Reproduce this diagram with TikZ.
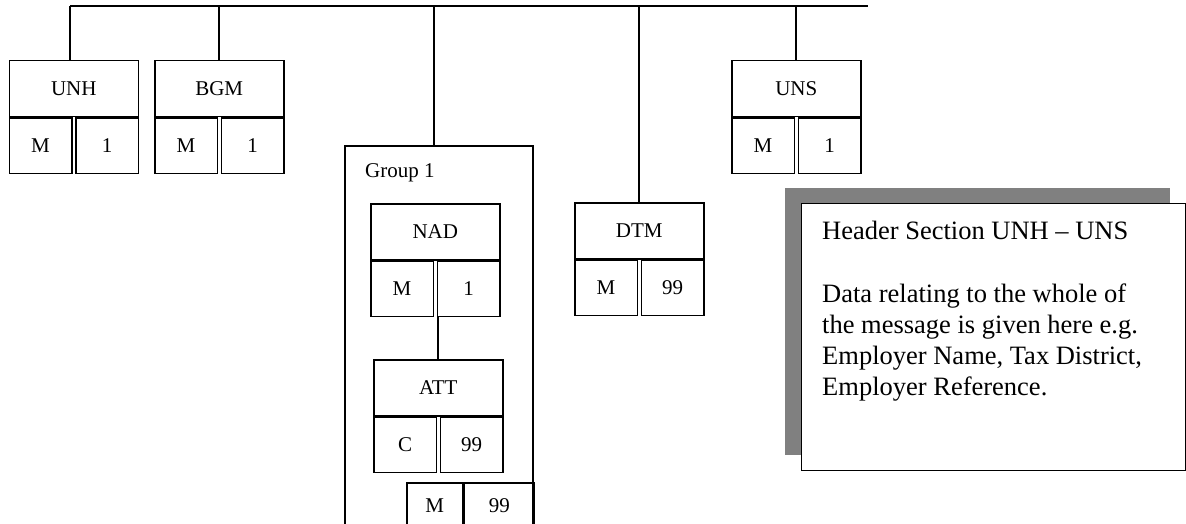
\documentclass[tikz,border=0pt]{standalone}
\usepackage{fontspec}
\setmainfont{Liberation Serif}
\begin{document}
\begin{tikzpicture}[x=1pt,y=-1pt,
  lbl/.style={font=\fontsize{21}{25}\selectfont},
  segtop/.style={draw,line width=1.5pt,minimum width=129pt,minimum height=56pt,inner sep=0pt,lbl},
  segcell/.style={draw,line width=1.5pt,minimum width=62.5pt,minimum height=55pt,inner sep=0pt,lbl},
  conn/.style={line width=1.6pt},
  grpbox/.style={draw,line width=1.6pt,minimum width=188pt,minimum height=420pt,inner sep=0pt,anchor=north west},
  notebox/.style={draw,line width=1.3pt,fill=white,minimum width=384pt,minimum height=267pt,inner sep=0pt,anchor=north west},
  shadowbox/.style={fill=shadowgray,minimum width=385pt,minimum height=267pt,inner sep=0pt,anchor=north west},
  notetxt/.style={font=\fontsize{26.5}{31}\selectfont,align=left,inner sep=0pt}
]
\definecolor{shadowgray}{RGB}{128,128,128}
\useasboundingbox (0,0) rectangle (1186,524);
\clip (0,0) rectangle (1186,524);

\newcommand\segment[6]{%
  \node[segtop,anchor=north west] (#1) at (#2,#3) {#4};
  \node[segcell,anchor=north west] (#1-l) at (#1.south west) {#5};
  \node[segcell,anchor=north east] (#1-r) at (#1.south east) {#6};
}

% top bar
\coordinate (barL) at (70,6);
\coordinate (barR) at (868,6);
\draw[conn] (barL) -- (barR);

% segments
\segment{unh}{8.5}{60}{UNH}{M}{1}
\segment{bgm}{154}{60}{BGM}{M}{1}
\segment{uns}{731}{60}{UNS}{M}{1}
\segment{dtm}{574}{202}{DTM}{M}{99}

% group 1
\node[grpbox] (grp) at (344,145) {};
\node[lbl,anchor=base west,inner sep=0pt] (grplbl) at (365,177) {Group 1};
\segment{nad}{370}{203}{NAD}{M}{1}
\segment{att}{373}{359}{ATT}{C}{99}
\node[draw,line width=1.5pt,lbl,minimum width=56pt,minimum height=46pt,inner sep=0pt,anchor=north west] (g1s) at (406,482) {M};
\node[draw,line width=1.5pt,lbl,minimum width=70pt,minimum height=46pt,inner sep=0pt,anchor=north west] (g1r) at (g1s.north east) {99};

% connectors
\draw[conn] (unh.north -| barL) -- (barL);
\draw[conn] (bgm.north) -- (bgm.north |- barL);
\coordinate (grpdrop) at ([xshift=-5pt]grp.north);
\draw[conn] (grpdrop) -- (grpdrop |- barL);
\draw[conn] (dtm.north) -- (dtm.north |- barL);
\draw[conn] (uns.north) -- (uns.north |- barL);
\draw[conn] (att.north |- nad-l.south) -- (att.north);

% note
\node[shadowbox] (shadow) at (785,188) {};
\node[notebox] (note) at (801,203) {};
\node[notetxt,anchor=base west] (notehead) at (822,239) {Header Section UNH -- UNS};
\node[notetxt,anchor=base west] (notebody) at (822,395) {Data relating to the whole of\\the message is given here e.g.\\Employer Name, Tax District,\\Employer Reference.};
\end{tikzpicture}
\end{document}
